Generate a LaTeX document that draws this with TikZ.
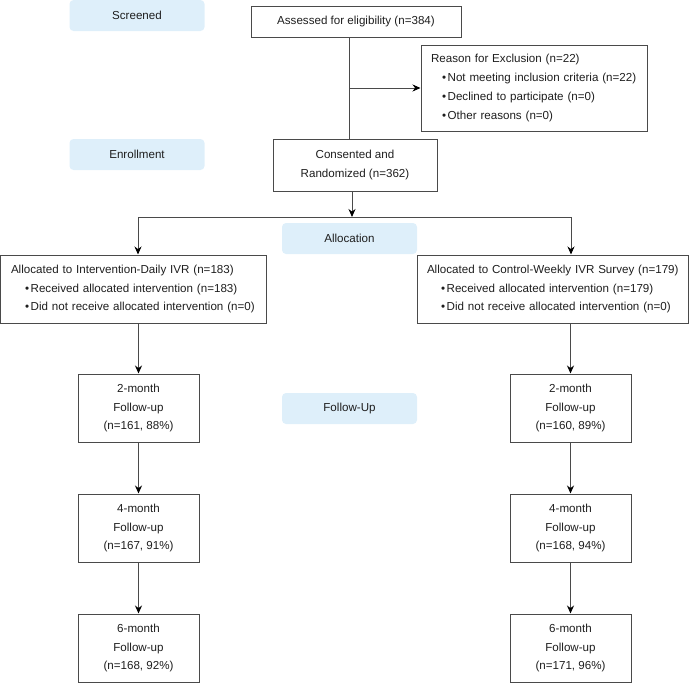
\documentclass[tikz,border=0pt]{standalone}
\usepackage{fontspec}
\setmainfont{Liberation Sans}
\usetikzlibrary{arrows.meta,calc}
\definecolor{phase}{HTML}{DEEFFA}
\definecolor{ln}{HTML}{4A4A4A}
\definecolor{tx}{HTML}{1E1E1E}
\newcommand\bul[1]{\hspace*{#1}\textbullet\hspace{1.6pt}}
\begin{document}
\begin{tikzpicture}[x=1pt,y=-1pt,
  font=\fontsize{11.6}{18.7}\selectfont,
  box/.style={draw=ln, line width=1pt, inner sep=0pt, text=tx, align=center},
  listbox/.style={draw=ln, line width=1pt, inner ysep=0pt, text=tx, align=left},
  phasebox/.style={fill=phase, rounded corners=4pt, inner sep=0pt, text=tx,
    minimum width=135pt, minimum height=31pt},
  conn/.style={draw=ln, line width=1pt},
  arr/.style={draw=ln, line width=1pt, -{Stealth[length=8pt,width=7pt,color=black]}}]
\useasboundingbox (0,0) rectangle (689,683);

% phase labels
\node[phasebox] (scr) at (137,15.5) {Screened};
\node[phasebox] (enr) at (137,154.5) {Enrollment};
\node[phasebox] (alc) at (349.5,238.5) {Allocation};
\node[phasebox] (fol) at (349.5,408.5) {Follow-Up};

% main boxes
\node[box, minimum width=210pt, minimum height=31pt] (assess) at (356,21.5) {Assessed for eligibility (n=384)};
\node[listbox, inner xsep=10pt, text width=206pt, minimum height=86pt] (excl) at (534,88)
  {\mbox{Reason for Exclusion (n=22)}\\
   \mbox{\bul{11pt}Not meeting inclusion criteria (n=22)}\\
   \mbox{\bul{11pt}Declined to participate (n=0)}\\
   \mbox{\bul{11pt}Other reasons (n=0)}};
\node[box, minimum width=164pt, minimum height=52pt] (cons) at (355,165) {Consented and\\Randomized (n=362)};

\node[listbox, inner xsep=11pt, text width=244pt, minimum height=68pt] (lal) at (133,289)
  {\mbox{Allocated to Intervention-Daily IVR (n=183)}\\
   \mbox{\bul{14pt}Received allocated intervention (n=183)}\\
   \mbox{\bul{14pt}Did not receive allocated intervention (n=0)}};
\node[listbox, inner xsep=10pt, text width=251pt, minimum height=68pt] (ral) at (552.5,289)
  {\mbox{Allocated to Control-Weekly IVR Survey (n=179)}\\
   \mbox{\bul{14pt}Received allocated intervention (n=179)}\\
   \mbox{\bul{14pt}Did not receive allocated intervention (n=0)}};

% follow-up boxes
\tikzset{fbox/.style={box, minimum width=121pt, minimum height=68pt}}
\node[fbox] (f2l) at (138.5,408) {2-month\\Follow-up\\(n=161, 88\%)};
\node[fbox] (f4l) at (138.5,528) {4-month\\Follow-up\\(n=167, 91\%)};
\node[fbox] (f6l) at (138.5,648) {6-month\\Follow-up\\(n=168, 92\%)};
\node[fbox] (f2r) at (570.5,408) {2-month\\Follow-up\\(n=160, 89\%)};
\node[fbox] (f4r) at (570.5,528) {4-month\\Follow-up\\(n=168, 94\%)};
\node[fbox] (f6r) at (570.5,648) {6-month\\Follow-up\\(n=171, 96\%)};

% connectors
\coordinate (vx) at (349,0);
\draw[conn] (assess.south -| vx) -- (cons.north -| vx);
\draw[arr] (vx |- excl.west) -- (excl.west);

\coordinate (cx) at (352,217);
\coordinate (lj) at (138,217);
\coordinate (rj) at (571,217);
\draw[arr] (cons.south -| cx) -- (cx);
\draw[conn] (lj) -- (rj);
\draw[arr] (lj) -- (lj |- lal.north);
\draw[arr] (rj) -- (rj |- ral.north);

\draw[arr] (lal.south -| f2l.north) -- (f2l.north);
\draw[arr] (f2l) -- (f4l);
\draw[arr] (f4l) -- (f6l);
\draw[arr] (ral.south -| f2r.north) -- (f2r.north);
\draw[arr] (f2r) -- (f4r);
\draw[arr] (f4r) -- (f6r);
\end{tikzpicture}
\end{document}
